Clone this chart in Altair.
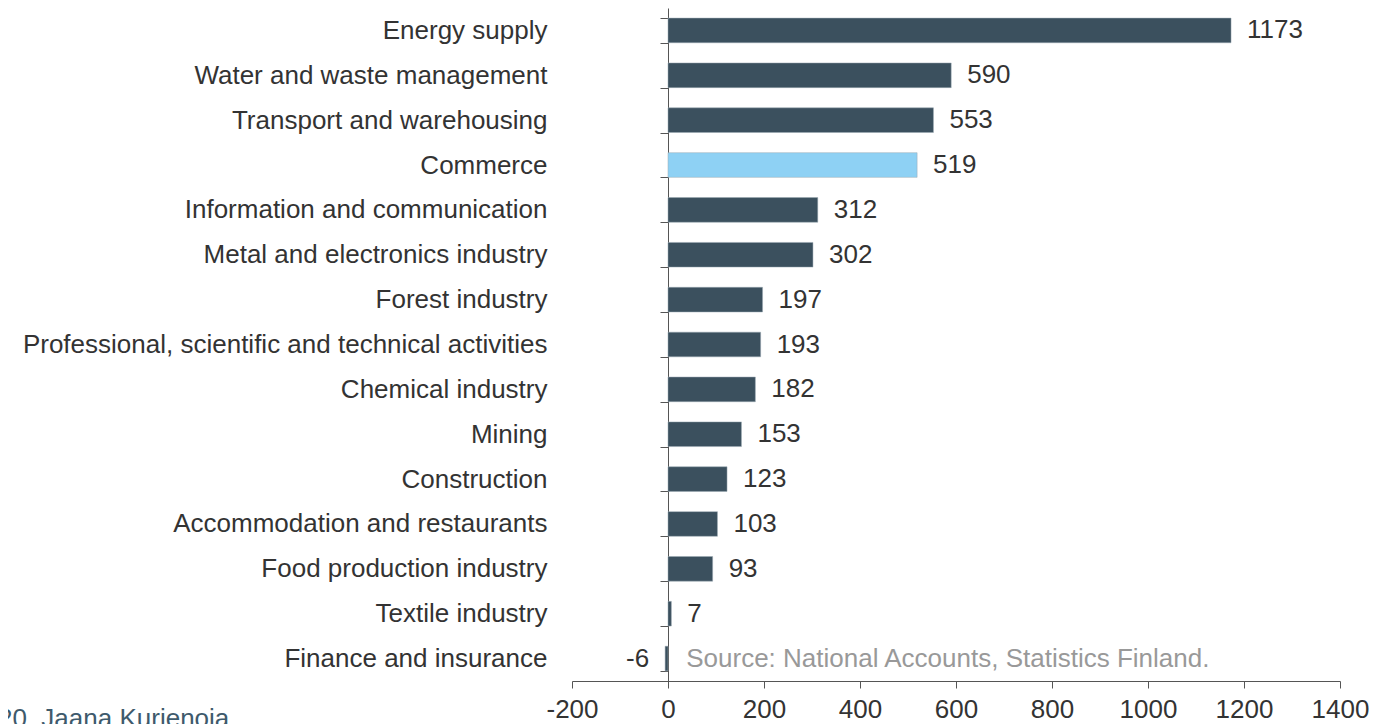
import altair as alt
import pandas as pd

categories = [
    "Energy supply",
    "Water and waste management",
    "Transport and warehousing",
    "Commerce",
    "Information and communication",
    "Metal and electronics industry",
    "Forest industry",
    "Professional, scientific and technical activities",
    "Chemical industry",
    "Mining",
    "Construction",
    "Accommodation and restaurants",
    "Food production industry",
    "Textile industry",
    "Finance and insurance",
]
values = [1173, 590, 553, 519, 312, 302, 197, 193, 182, 153, 123, 103, 93, 7, -6]
highlight = "Commerce"
x_ticks = [-200, 0, 200, 400, 600, 800, 1000, 1200, 1400]
source_text = "Source: National Accounts, Statistics Finland."
footer_text = "20\u00a0\u00a0Jaana Kurjenoja"

df = pd.DataFrame({"cat": categories, "value": values})

FONT = "Liberation Sans"
DARK = "#3b505e"
LIGHT = "#8ed1f4"
TXT = "#333333"

W, H = 768, 673
x_min, x_max = -200, 1400
x_scale = alt.Scale(domain=[x_min, x_max], nice=False)
y_scale = alt.Scale(domain=categories, paddingInner=0.45, paddingOuter=0.225)

zero_offset = W * (0 - x_min) / (x_max - x_min)  # pixel position of x=0 in the plot

y_enc = alt.Y(
    "cat:N",
    scale=y_scale,
    sort=categories,
    axis=alt.Axis(
        title=None,
        orient="left",
        offset=-zero_offset,
        domainColor="#555555",
        tickColor="#555555",
        tickSize=8,
        tickBand="extent",
        labelPadding=113,
        labelFontSize=26,
        labelFont=FONT,
        labelColor=TXT,
        labelLimit=1000,
    ),
)

x_enc = alt.X(
    "value:Q",
    scale=x_scale,
    axis=alt.Axis(
        title=None,
        values=x_ticks,
        labelExpr="'' + datum.value",
        grid=False,
        domainColor="#555555",
        tickColor="#555555",
        tickSize=7,
        labelPadding=8,
        labelFontSize=26,
        labelFont=FONT,
        labelColor=TXT,
        labelFlush=False,
    ),
)

base = alt.Chart(df).transform_calculate(lbl="'' + datum.value")

bars = base.mark_bar(stroke="#9aa8b2", strokeWidth=0.5).encode(
    x=x_enc,
    x2=alt.datum(0),
    y=y_enc,
    color=alt.condition(
        alt.datum.cat == highlight, alt.value(LIGHT), alt.value(DARK)
    ),
)

pos_labels = (
    base.transform_filter("datum.value >= 0")
    .mark_text(align="left", baseline="middle", dx=16, fontSize=26, font=FONT, color=TXT)
    .encode(x=alt.X("value:Q", scale=x_scale), y=alt.Y("cat:N", scale=y_scale, sort=categories), text="lbl:N")
)

neg_labels = (
    base.transform_filter("datum.value < 0")
    .mark_text(align="right", baseline="middle", dx=-16, fontSize=26, font=FONT, color=TXT)
    .encode(x=alt.X("value:Q", scale=x_scale), y=alt.Y("cat:N", scale=y_scale, sort=categories), text="lbl:N")
)

src_df = pd.DataFrame({"cat": [categories[-1]], "label": [source_text]})
source = (
    alt.Chart(src_df)
    .mark_text(align="left", baseline="middle", fontSize=26, font=FONT, color="#999999")
    .encode(
        x=alt.datum(38, scale=x_scale),
        y=alt.Y("cat:N", scale=y_scale, sort=categories),
        text="label:N",
    )
)

foot_df = pd.DataFrame({"label": [footer_text]})
footer = (
    alt.Chart(foot_df)
    .mark_text(align="left", baseline="top", fontSize=26, font=FONT, color="#3e5a6c")
    .encode(x=alt.value(-574), y=alt.value(698), text="label:N")
)

chart = (
    alt.layer(bars, pos_labels, neg_labels, source, footer)
    .properties(
        width=W,
        height=H,
        autosize=alt.AutoSizeParams(type="none"),
        padding={"left": 564, "top": 0, "right": 29, "bottom": 70},
    )
    .configure(background="white")
    .configure_view(stroke=None)
)

chart.save("out.html", embed_options={"renderer": "svg", "actions": False})
